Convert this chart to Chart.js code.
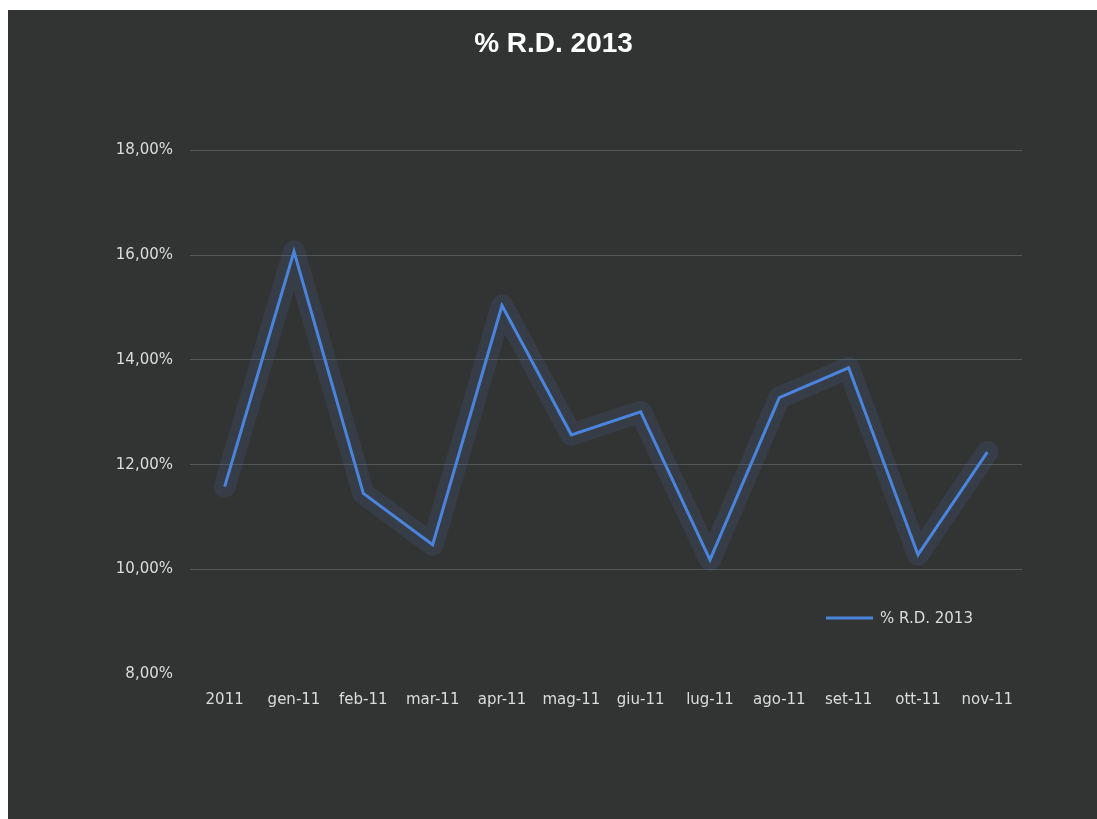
<!DOCTYPE html>
<html>
<head>
<meta charset="utf-8">
<script src="https://cdn.jsdelivr.net/npm/chart.js@4/dist/chart.umd.min.js"></script>
<style>
  html, body { margin: 0; padding: 0; background: #ffffff; width: 1097px; height: 819px; overflow: hidden; }
  #wrap { position: absolute; left: 8px; top: 10px; width: 1089px; height: 809px; background: #323434; }
  canvas { display: block; }
</style>
</head>
<body>
<div id="wrap"><canvas id="c" width="1089" height="809"></canvas></div>
<script>
const chartTitle = '% R.D. 2013';
const categories = ['2011', 'gen-11', 'feb-11', 'mar-11', 'apr-11', 'mag-11', 'giu-11', 'lug-11', 'ago-11', 'set-11', 'ott-11', 'nov-11'];
const seriesLabel = '% R.D. 2013';
const seriesValues = [11.58, 16.07, 11.45, 10.47, 15.04, 12.57, 13.01, 10.18, 13.28, 13.85, 10.28, 12.24];
const yMin = 8, yMax = 18, yStep = 2;

const lineColor = '#4a84dc';
const textColor = '#dcdcdc';

const glowPlugin = {
  id: 'glow',
  beforeDatasetDraw(chart, args) {
    const meta = args.meta;
    const pts = meta.data;
    if (!pts.length) return;
    const ctx = chart.ctx;
    ctx.save();
    ctx.lineJoin = 'round';
    ctx.lineCap = 'round';
    ctx.strokeStyle = 'rgba(75,100,150,0.2)';
    ctx.lineWidth = 22;
    ctx.beginPath();
    pts.forEach((p, i) => { if (i === 0) ctx.moveTo(p.x, p.y); else ctx.lineTo(p.x, p.y); });
    ctx.stroke();
    ctx.restore();
  }
};

const legendPlugin = {
  id: 'insideLegend',
  afterDraw(chart) {
    const ctx = chart.ctx;
    const ds = chart.data.datasets[0];
    const x0 = 818, y0 = 608;
    ctx.save();
    ctx.strokeStyle = ds.borderColor;
    ctx.lineWidth = 3;
    ctx.beginPath();
    ctx.moveTo(x0, y0);
    ctx.lineTo(x0 + 47, y0);
    ctx.stroke();
    ctx.fillStyle = textColor;
    ctx.font = '15px "DejaVu Sans"';
    ctx.textBaseline = 'middle';
    ctx.textAlign = 'left';
    ctx.fillText(ds.label, x0 + 54, y0 + 1);
    ctx.restore();
  }
};

new Chart(document.getElementById('c'), {
  type: 'line',
  data: {
    labels: categories,
    datasets: [{
      label: seriesLabel,
      data: seriesValues,
      borderColor: lineColor,
      borderWidth: 3,
      pointRadius: 0,
      tension: 0,
      fill: false
    }]
  },
  options: {
    responsive: false,
    animation: false,
    layout: { padding: { left: 77, right: 75, top: 0, bottom: 105 } },
    plugins: {
      legend: { display: false },
      tooltip: { enabled: false },
      title: {
        display: true,
        text: chartTitle,
        color: '#ffffff',
        font: { family: '"Liberation Sans"', size: 28, weight: 'bold' },
        padding: { top: 17, bottom: 90 }
      }
    },
    scales: {
      x: {
        offset: true,
        grid: { display: false, drawTicks: false },
        border: { display: false },
        ticks: { color: textColor, font: { family: '"DejaVu Sans"', size: 15 }, padding: 17, maxRotation: 0, autoSkip: false },
        afterFit(s) { s.height = 40; }
      },
      y: {
        min: yMin, max: yMax,
        grid: { color: ctx => ctx.tick.value === yMin ? 'rgba(0,0,0,0)' : 'rgba(150,155,155,0.35)', lineWidth: 1, drawTicks: false },
        border: { display: false },
        ticks: {
          stepSize: yStep,
          color: textColor,
          font: { family: '"DejaVu Sans"', size: 15 },
          padding: 17,
          callback: v => v.toFixed(2).replace('.', ',') + '%'
        },
        afterFit(s) { s.width = 105; }
      }
    }
  },
  plugins: [glowPlugin, legendPlugin]
});
</script>
</body>
</html>
